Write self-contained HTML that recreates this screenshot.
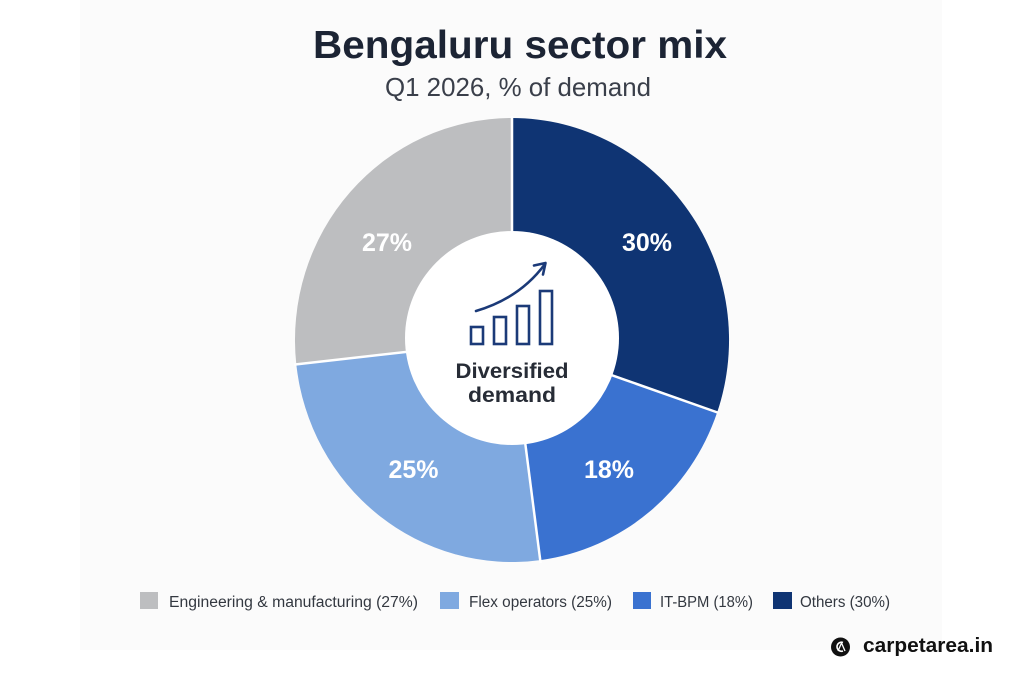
<!DOCTYPE html>
<html>
<head>
<meta charset="utf-8">
<style>
  html, body { margin:0; padding:0; background:#ffffff; }
  svg { display:block; }
  text { font-family: "Liberation Sans", "DejaVu Sans", sans-serif; }
</style>
</head>
<body>
<svg width="1024" height="683" viewBox="0 0 1024 683" xmlns="http://www.w3.org/2000/svg">
  <rect x="0" y="0" width="1024" height="683" fill="#ffffff"/>
  <rect x="80" y="0" width="862" height="650" fill="#fbfbfb"/>

  <!-- Title -->
  <text x="313" y="58" font-size="39" font-weight="bold" fill="#1c2434" textLength="414" lengthAdjust="spacingAndGlyphs">Bengaluru sector mix</text>
  <text x="385" y="96" font-size="26" fill="#3a3f4a" textLength="266" lengthAdjust="spacingAndGlyphs">Q1 2026, % of demand</text>

  <!-- Donut slices -->
  <path d="M512,340 L512,118 A217,222 0 0 1 717.2,412.3 Z" fill="#0f3473"/>
  <path d="M512,340 L717.2,412.3 A217,222 0 0 1 540.3,560.1 Z" fill="#3a72d0"/>
  <path d="M512,340 L540.3,560.1 A217,222 0 0 1 296.3,364.4 Z" fill="#7fa9e0"/>
  <path d="M512,340 L296.3,364.4 A217,222 0 0 1 512,118 Z" fill="#bdbec0"/>

  <!-- Separators -->
  <g stroke="#ffffff" stroke-width="2.5">
    <line x1="512" y1="340" x2="512" y2="116"/>
    <line x1="512" y1="340" x2="719" y2="413"/>
    <line x1="512" y1="340" x2="540.6" y2="563"/>
    <line x1="512" y1="340" x2="294" y2="364.6"/>
  </g>

  <!-- Hole -->
  <circle cx="512" cy="338" r="107" fill="#ffffff"/>

  <!-- Percent labels -->
  <g font-size="25" font-weight="bold" fill="#ffffff" text-anchor="middle">
    <text x="387" y="251">27%</text>
    <text x="647" y="251">30%</text>
    <text x="413.5" y="478">25%</text>
    <text x="609" y="478">18%</text>
  </g>

  <!-- Icon -->
  <g fill="none" stroke="#1b3a78" stroke-width="2.6" stroke-linejoin="miter">
    <rect x="471" y="327" width="12" height="17"/>
    <rect x="494" y="317" width="12" height="27"/>
    <rect x="517" y="306" width="12" height="38"/>
    <rect x="540" y="291" width="12" height="53"/>
    <path d="M476,311 Q520,298 545,264" stroke-linecap="round"/>
    <path d="M534,265.5 L545.5,263 L543,274.5" stroke-linecap="round" stroke-linejoin="round"/>
  </g>

  <!-- Center text -->
  <g font-size="21" font-weight="bold" fill="#272c36" text-anchor="middle">
    <text x="512" y="378" textLength="113" lengthAdjust="spacingAndGlyphs">Diversified</text>
    <text x="512" y="402" textLength="88" lengthAdjust="spacingAndGlyphs">demand</text>
  </g>

  <!-- Legend -->
  <rect x="140" y="592" width="18" height="17" fill="#bdbec0"/>
  <text x="169" y="607" font-size="15.5" fill="#333840" textLength="249" lengthAdjust="spacingAndGlyphs">Engineering &amp; manufacturing (27%)</text>
  <rect x="440" y="592" width="19" height="17" fill="#7fa9e0"/>
  <text x="469" y="607" font-size="15.5" fill="#333840" textLength="143" lengthAdjust="spacingAndGlyphs">Flex operators (25%)</text>
  <rect x="633" y="592" width="18" height="17" fill="#3a72d0"/>
  <text x="660" y="607" font-size="15.5" fill="#333840" textLength="93" lengthAdjust="spacingAndGlyphs">IT-BPM (18%)</text>
  <rect x="773" y="592" width="19" height="17" fill="#0f3473"/>
  <text x="800" y="607" font-size="15.5" fill="#333840" textLength="90" lengthAdjust="spacingAndGlyphs">Others (30%)</text>

  <!-- Logo -->
  <circle cx="840.5" cy="647" r="9.5" fill="#111111"/>
  <path d="M843,642.5 A4.5,4.5 0 1 0 843,651" fill="none" stroke="#ffffff" stroke-width="1.6"/>
  <path d="M838,651 L841.5,643 L845,651" fill="none" stroke="#ffffff" stroke-width="1.3"/>
  <text x="863" y="652" font-size="20" font-weight="bold" fill="#111111" textLength="130" lengthAdjust="spacingAndGlyphs">carpetarea.in</text>
</svg>
</body>
</html>
